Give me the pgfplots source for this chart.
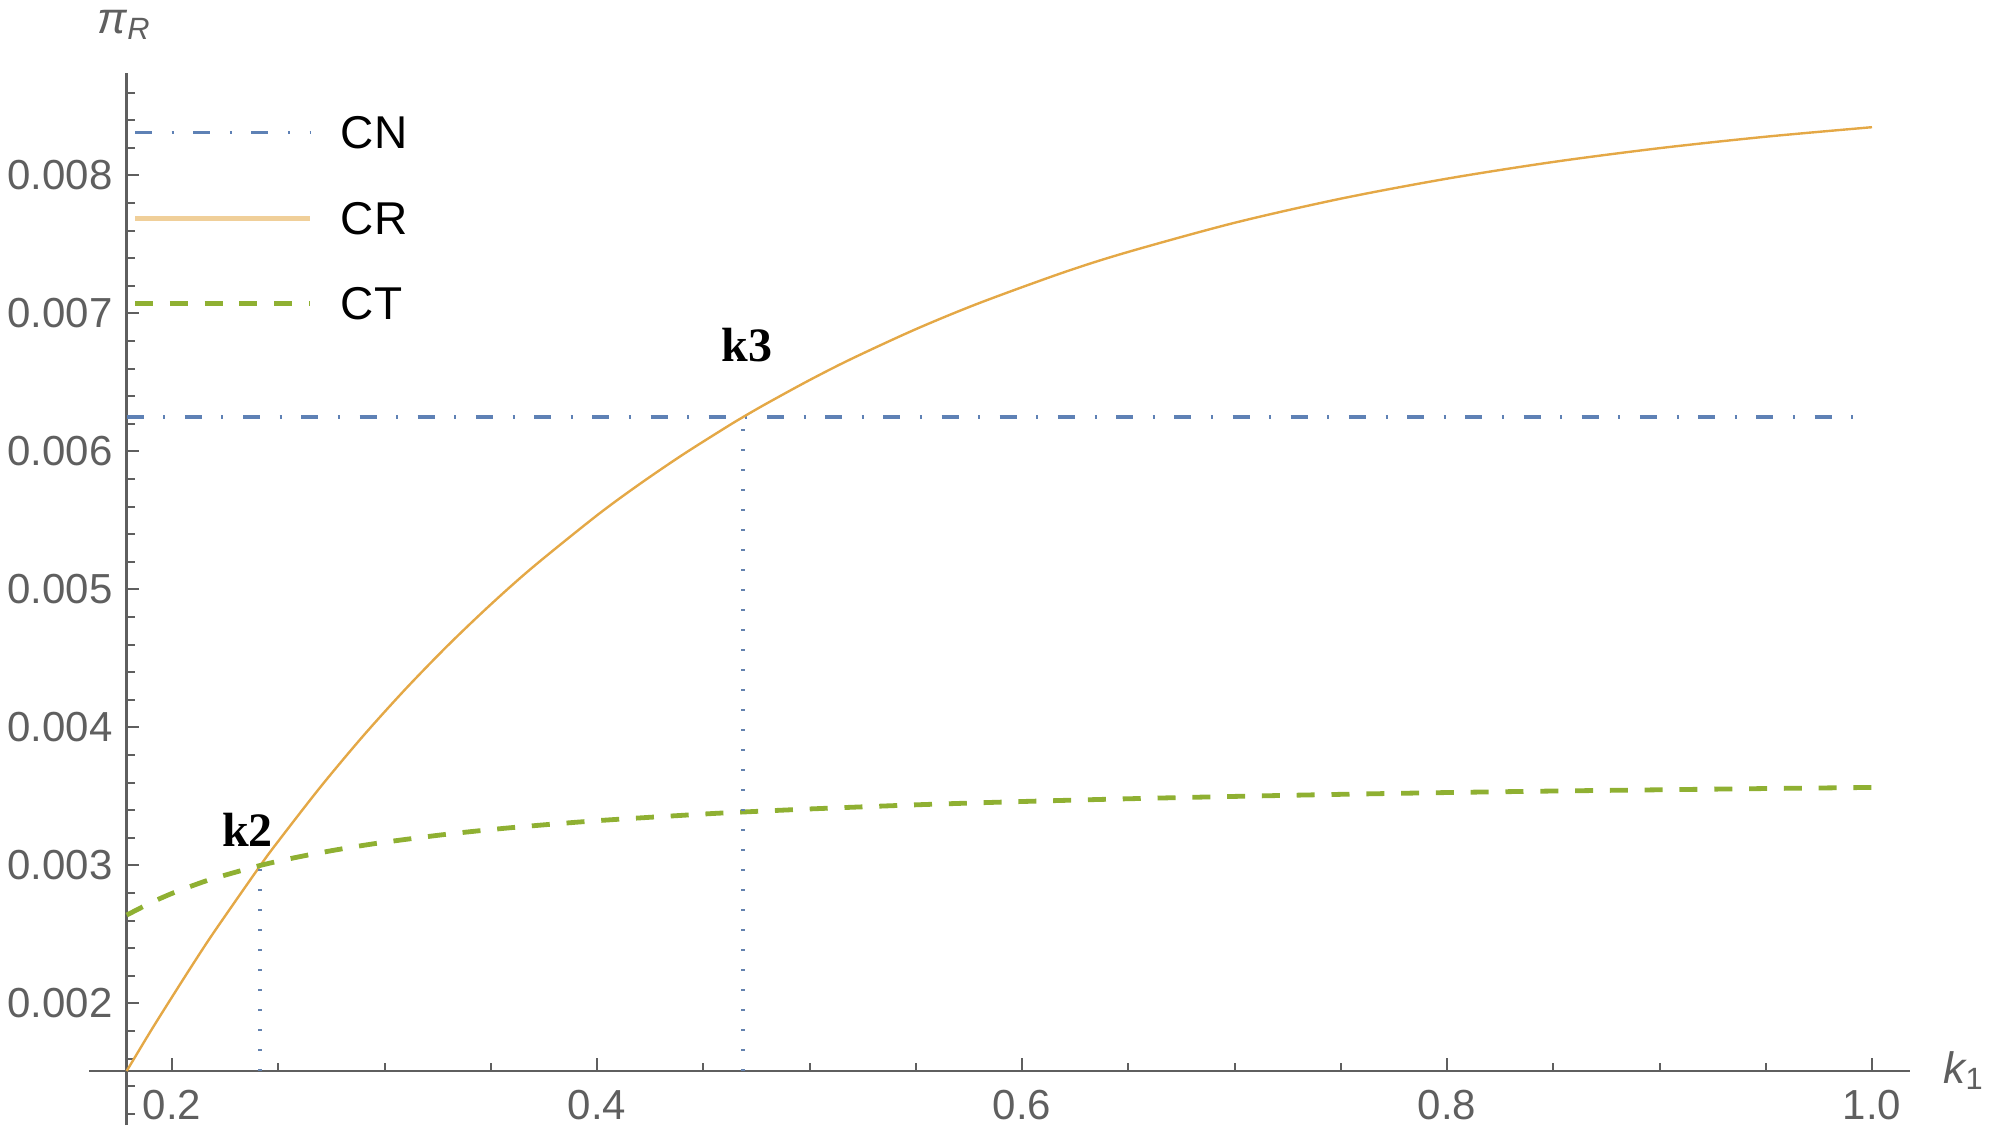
\documentclass[border=0pt]{standalone}
\usepackage{fontspec}
\setmainfont{Liberation Sans}
\newfontfamily\timesfont{Liberation Serif}
\usepackage{pgfplots}
\pgfplotsset{compat=1.18}
\usetikzlibrary{calc}

\definecolor{cnblue}{RGB}{94,129,181}
\definecolor{crorange}{RGB}{228,168,70}
\definecolor{ctgreen}{RGB}{143,176,50}
\definecolor{axgray}{RGB}{95,95,95}
\definecolor{labgray}{RGB}{95,95,95}
\definecolor{dotblue}{RGB}{100,130,175}

\begin{document}
\begin{tikzpicture}
\begin{axis}[
    name=ax,
    scale only axis,
    width=445.75pt, height=249.4pt,
    xmin=0.17868, xmax=1.01774,
    ymin=0.00151, ymax=0.00874,
    clip=false,
    axis lines=left,
    axis line style={-, axgray, line width=0.6pt},
    x axis line style={shorten <=-9.4pt},
    y axis line style={shorten <=-13.5pt},
    tick align=inside,
    tick style={axgray, line width=0.5pt},
    major tick length=3.2pt,
    minor tick length=2pt,
    xtick={0.2,0.4,0.6,0.8,1.0},
    xticklabels={0.2,0.4,0.6,0.8,1.0},
    minor xtick={0.25,0.3,0.35,0.45,0.5,0.55,0.65,0.7,0.75,0.85,0.9,0.95},
    ytick={0.002,0.003,0.004,0.005,0.006,0.007,0.008},
    yticklabels={0.002,0.003,0.004,0.005,0.006,0.007,0.008},
    minor ytick={0.0016,0.0018,0.0022,0.0024,0.0026,0.0028,0.0032,0.0034,0.0036,0.0038,
                 0.0042,0.0044,0.0046,0.0048,0.0052,0.0054,0.0056,0.0058,0.0062,0.0064,0.0066,0.0068,
                 0.0072,0.0074,0.0076,0.0078,0.0082,0.0084,0.0086},
    scaled x ticks=false, scaled y ticks=false,
    /pgf/number format/assume math mode=true,
    ticklabel style={font=\fontsize{10.5}{12}\selectfont, text=labgray},
    xticklabel style={yshift=-1.2pt},
]
% CN (constant)
\addplot[cnblue, line width=0.85pt, dash pattern=on 4.25pt off 4.9pt on 0.5pt off 4.9pt]
    coordinates {(0.17868,0.00625) (1.0,0.00625)};
% CR
\addplot[crorange, line width=0.6pt, smooth] coordinates {
(0.17868,0.00151) (0.19,0.00180) (0.20,0.002046) (0.21,0.002288) (0.22,0.002522)
(0.2416,0.00300) (0.25,0.003175) (0.27,0.003571) (0.29,0.003939) (0.31,0.00428)
(0.33,0.004597) (0.35,0.004891) (0.37,0.005164) (0.40,0.005537) (0.42,0.005763)
(0.44,0.005973) (0.46,0.006168) (0.4688,0.00625) (0.48,0.006349) (0.50,0.006517)
(0.52,0.006673) (0.55,0.006886) (0.58,0.007076) (0.62,0.0073) (0.65,0.007446)
(0.70,0.007657) (0.75,0.007832) (0.80,0.007977) (0.85,0.008098) (0.90,0.008198)
(0.95,0.008281) (1.00,0.00835)};
% CT
\addplot[ctgreen, line width=1.2pt, smooth, dash pattern=on 4.5pt off 4.2pt] coordinates {
(0.17868,0.00264) (0.19,0.002729) (0.20,0.002797) (0.21,0.002855) (0.22,0.002907)
(0.2416,0.00300) (0.26,0.003063) (0.28,0.00312) (0.30,0.003168) (0.33,0.003227)
(0.36,0.003274) (0.40,0.003324) (0.45,0.003372) (0.4688,0.003387) (0.50,0.003409)
(0.55,0.003439) (0.60,0.003463) (0.65,0.003483) (0.70,0.0035) (0.75,0.003515)
(0.80,0.003528) (0.85,0.003539) (0.90,0.003548) (0.95,0.003557) (1.00,0.003565)};
% k2, k3 drop lines
\addplot[dotblue, line width=1pt, dash pattern=on 0.6pt off 4.4pt]
    coordinates {(0.2416,0.00151) (0.2416,0.00300)};
\addplot[dotblue, line width=1pt, dash pattern=on 0.6pt off 4.4pt]
    coordinates {(0.4688,0.00151) (0.4688,0.00625)};

% small ticks below the x axis on the y axis
\draw[axgray, line width=0.5pt] (axis cs:0.17868,0.0014) -- ++(2pt,0pt);
\draw[axgray, line width=0.5pt] (axis cs:0.17868,0.0012) -- ++(2pt,0pt);

% point labels
\node[font=\timesfont\bfseries\fontsize{12}{14}\selectfont] at (axis cs:0.2356,0.00326) {k2};
\node[font=\timesfont\bfseries\fontsize{12}{14}\selectfont] at (axis cs:0.4706,0.006768) {k3};

% legend
\draw[cnblue, line width=0.85pt, dash pattern=on 4.25pt off 4.9pt on 0.5pt off 4.9pt]
    (axis cs:0.18259,0.008312) -- (axis cs:0.26494,0.008312);
\draw[crorange!55!white, line width=1.2pt]
    (axis cs:0.18259,0.007688) -- (axis cs:0.26494,0.007688);
\draw[ctgreen, line width=1.2pt, dash pattern=on 4.5pt off 4.2pt]
    (axis cs:0.18259,0.007072) -- (axis cs:0.26494,0.007072);
\node[anchor=west, inner sep=0pt, font=\fontsize{11.5}{13}\selectfont] at (axis cs:0.27906,0.008312) {CN};
\node[anchor=west, inner sep=0pt, font=\fontsize{11.5}{13}\selectfont] at (axis cs:0.27906,0.007688) {CR};
\node[anchor=west, inner sep=0pt, font=\fontsize{11.5}{13}\selectfont] at (axis cs:0.27906,0.007072) {CT};

% axis labels
\node[anchor=base, inner sep=0pt, text=labgray, font=\fontsize{11}{13}\selectfont]
    at ($(rel axis cs:0,1)+(-0.5pt,10pt)$) {\itshape π\textsubscript{R}};
\node[anchor=base west, inner sep=0pt, text=labgray, font=\fontsize{11}{13}\selectfont]
    at ($(rel axis cs:1,0)+(8.25pt,-3pt)$) {{\itshape k}\textsubscript{1}};
\end{axis}
\pgfresetboundingbox
\path ($(ax.south west)+(-31.675pt,-16pt)$) rectangle +(497.75pt,283.75pt);
\end{tikzpicture}
\end{document}
